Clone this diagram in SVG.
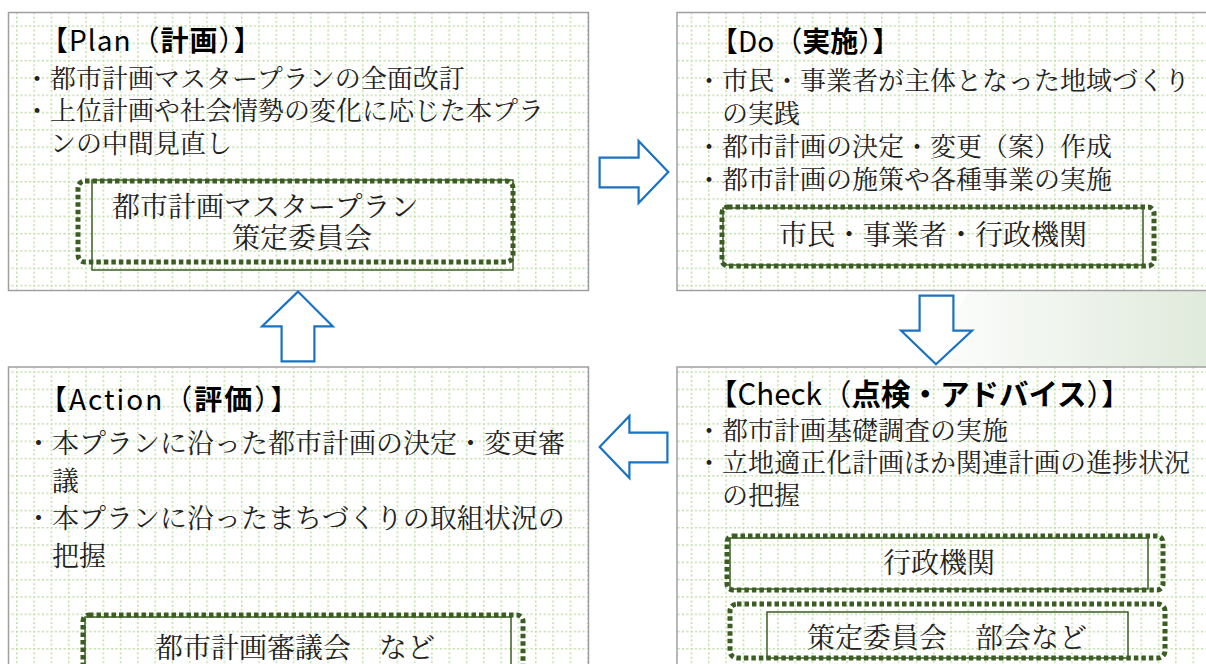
<svg xmlns="http://www.w3.org/2000/svg" width="1206" height="664" viewBox="0 0 1206 664">
<defs>
<pattern id="grid" patternUnits="userSpaceOnUse" x="16" y="8" width="17.3" height="17.3">
<line x1="0.75" y1="0" x2="0.75" y2="17.3" stroke="#bcdca2" stroke-width="1.5" stroke-dasharray="2 2.325"/>
<line x1="0" y1="0.75" x2="17.3" y2="0.75" stroke="#bcdca2" stroke-width="1.5" stroke-dasharray="2 2.325"/>
</pattern>
<linearGradient id="bg" x1="913" y1="0" x2="1206" y2="0" gradientUnits="userSpaceOnUse">
<stop offset="0" stop-color="#ffffff"/>
<stop offset="1" stop-color="#e0eadc"/>
</linearGradient>
<style>
.box{fill:url(#grid);stroke:#a0a0a0;stroke-width:1.5}
.title{font-family:"Noto Sans CJK JP",sans-serif;font-size:28px;fill:#000}
.title .b{font-weight:bold}
.body{font-family:"Noto Serif CJK JP","Noto Sans CJK JP",serif;font-size:26px;fill:#222}
.lab{font-family:"Noto Serif CJK JP","Noto Sans CJK JP",serif;font-size:28px;fill:#222}
.dot{fill:none;stroke:#3b5c22;stroke-width:5;stroke-dasharray:4.5 3}
.thin{fill:none;stroke:#3b5c22;stroke-width:1.5}
.arr{fill:#fff;stroke:#1a72c2;stroke-width:7;stroke-linejoin:miter}
.arri{fill:#fff;stroke:#fff;stroke-width:2.6;stroke-linejoin:miter}
</style>
</defs>
<rect width="1206" height="664" fill="#fff"/>
<polygon points="970,291 1206,291 1206,367 913,367" fill="url(#bg)"/>

<g id="plan">
<rect class="box" x="8.5" y="12.5" width="580" height="278"/>
<text class="title" x="40" y="51" letter-spacing="1">【Plan（<tspan class="b">計画</tspan>）】</text>
<text class="body" x="24" y="88">・都市計画マスタープランの全面改訂</text>
<text class="body" x="24" y="120">・上位計画や社会情勢の変化に応じた本プラ</text>
<text class="body" x="50" y="153">ンの中間見直し</text>
<rect class="thin" x="92" y="180" width="421" height="90"/>
<rect class="dot" x="78" y="181" width="435" height="81" rx="7"/>
<text class="lab" x="112" y="217">都市計画マスタープラン</text>
<text class="lab" x="232" y="248">策定委員会</text>
</g>

<g id="do">
<rect class="box" x="677" y="12.5" width="540" height="278"/>
<text class="title" x="710" y="52">【Do（<tspan class="b">実施</tspan>）】</text>
<text class="body" x="696" y="90">・市民・事業者が主体となった地域づくり</text>
<text class="body" x="722" y="123">の実践</text>
<text class="body" x="696" y="156">・都市計画の決定・変更（案）作成</text>
<text class="body" x="696" y="189">・都市計画の施策や各種事業の実施</text>
<rect class="thin" x="723" y="208" width="420" height="57"/>
<rect class="dot" x="722" y="207" width="432" height="59" rx="6"/>
<text class="lab" x="779" y="245">市民・事業者・行政機関</text>
</g>

<g id="action">
<rect class="box" x="8.5" y="367" width="580" height="310"/>
<text class="title" x="39" y="410" letter-spacing="2">【Action（<tspan class="b">評価</tspan>）】</text>
<text class="body" x="25" y="453" style="font-size:27px">・本プランに沿った都市計画の決定・変更審</text>
<text class="body" x="52" y="491" style="font-size:27px">議</text>
<text class="body" x="25" y="528" style="font-size:27px">・本プランに沿ったまちづくりの取組状況の</text>
<text class="body" x="52" y="566" style="font-size:27px">把握</text>
<rect class="thin" x="85" y="617" width="426" height="59"/>
<rect class="dot" x="83" y="615" width="440" height="62" rx="6"/>
<text class="lab" x="155" y="658">都市計画審議会　など</text>
</g>

<g id="check">
<rect class="box" x="677" y="367" width="540" height="310"/>
<text class="title" x="708" y="405" style="font-size:29.5px">【Check（<tspan class="b">点検・アドバイス</tspan>）】</text>
<text class="body" x="696" y="440">・都市計画基礎調査の実施</text>
<text class="body" x="696" y="472">・立地適正化計画ほか関連計画の進捗状況</text>
<text class="body" x="722" y="505">の把握</text>
<rect class="thin" x="730" y="538" width="418" height="51"/>
<rect class="dot" x="727" y="536" width="436" height="54" rx="6"/>
<text class="lab" x="883" y="573">行政機関</text>
<rect class="thin" x="767" y="612" width="361" height="46"/>
<rect class="dot" x="730" y="604" width="435" height="54" rx="7"/>
<text class="lab" x="807" y="648">策定委員会　部会など</text>
</g>

<g id="connectors">
<path class="arr" d="M602,160 H641 V147 L665,172 L641,197 V185 H602 Z"/>
<path class="arri" d="M602,160 H641 V147 L665,172 L641,197 V185 H602 Z"/>
<path class="arr" d="M922,298 H951 V333 H966 L936,361 L907,333 H922 Z"/>
<path class="arri" d="M922,298 H951 V333 H966 L936,361 L907,333 H922 Z"/>
<path class="arr" d="M603,447 L627,422 V435 H665 V460 H627 V472 Z"/>
<path class="arri" d="M603,447 L627,422 V435 H665 V460 H627 V472 Z"/>
<path class="arr" d="M298,295 L327,324 H312 V359 H284 V324 H268 Z"/>
<path class="arri" d="M298,295 L327,324 H312 V359 H284 V324 H268 Z"/>
</g>
</svg>
